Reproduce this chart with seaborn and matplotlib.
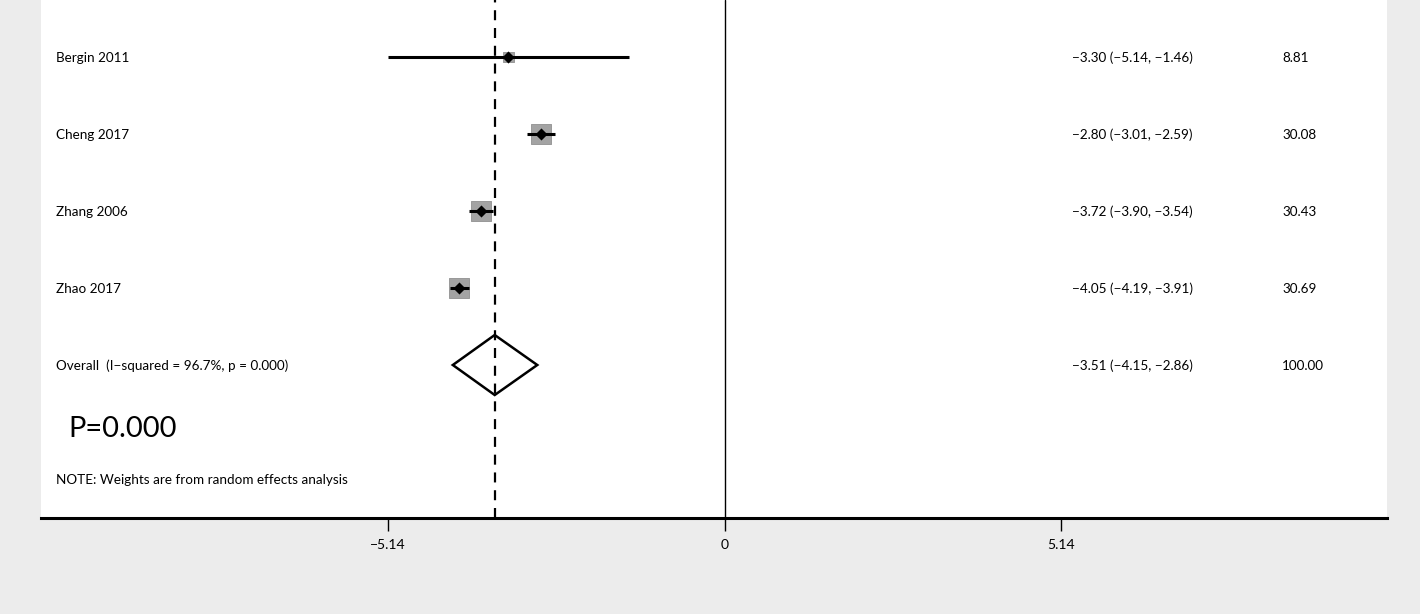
import numpy as np
import pandas as pd
import matplotlib
matplotlib.use("Agg")
import matplotlib.pyplot as plt
import seaborn as sns

studies = ["Bergin 2011", "Cheng 2017", "Zhang 2006", "Zhao 2017"]
es = [-3.30, -2.80, -3.72, -4.05]
ci_lo = [-5.14, -3.01, -3.90, -4.19]
ci_hi = [-1.46, -2.59, -3.54, -3.91]
weights = [8.81, 30.08, 30.43, 30.69]
overall_label = "Overall  (I\u2212squared = 96.7%, p = 0.000)"
overall_es = -3.51
overall_lo = -4.15
overall_hi = -2.86
overall_w = 100.00
xticks = [-5.14, 0, 5.14]
p_text = "P=0.000"
note_text = "NOTE: Weights are from random effects analysis"

sns.set_theme(style="white")
plt.rcParams['font.family'] = ['Lato', 'DejaVu Sans']
plt.rcParams['text.color'] = 'black'
plt.rcParams['xtick.color'] = 'black'

W, H = 1420, 614
fig = plt.figure(figsize=(W / 100, H / 100), dpi=100, facecolor="#ececec")
left, right, bottom_px = 41, 1387, 518
ax = fig.add_axes([left / W, (H - bottom_px) / H, (right - left) / W, bottom_px / H])
ax.set_facecolor("white")

ppu = (1061 - 388) / 10.28
x0 = 724.5
ax.set_xlim((left - x0) / ppu, (right - x0) / ppu)
ax.set_ylim((bottom_px - 57) / 77, -57 / 77)

rows = np.arange(len(studies))
df = pd.DataFrame({"study": studies, "es": es, "lo": ci_lo, "hi": ci_hi,
                   "w": weights, "row": rows})

def fmt(v):
    s = f"{abs(v):.2f}"
    return ("\u2212" + s) if v < 0 else s

# reference lines
ax.axvline(0, color="black", lw=1.0, zorder=1)
ax.axvline(overall_es, color="black", lw=1.6, ls=(0, (4.5, 3.5)), zorder=1)

# weight boxes
k = 207 / 30.08
sns.scatterplot(data=df, x="es", y="row", size="w",
                sizes={w: k * w for w in weights}, marker="s",
                color="#a3a3a3", edgecolor="#909090", linewidth=0.6,
                legend=False, ax=ax, zorder=2)
# CI lines
ax.hlines(df["row"], df["lo"], df["hi"], color="black", lw=2.2, zorder=3)
# point estimates
sns.scatterplot(data=df, x="es", y="row", marker="D", color="black",
                s=38, linewidth=0, legend=False, ax=ax, zorder=4)

# overall diamond
orow = len(studies)
dh = 30 / 77
ax.fill([overall_lo, overall_es, overall_hi, overall_es, overall_lo],
        [orow, orow - dh, orow, orow + dh, orow],
        facecolor="none", edgecolor="black", lw=1.8, zorder=3)

# texts
xl = (56 - x0) / ppu
xe = (1072 - x0) / ppu
xw = (1282 - x0) / ppu
fs = 9.7
dy = 0.012
for i, r in df.iterrows():
    ax.text(xl, r["row"] + dy, r["study"], va="center", ha="left", fontsize=fs)
    ax.text(xe, r["row"] + dy, f"{fmt(r['es'])} ({fmt(r['lo'])}, {fmt(r['hi'])})",
            va="center", ha="left", fontsize=fs)
    ax.text(xw, r["row"] + dy, f"{r['w']:.2f}", va="center", ha="left", fontsize=fs)
ax.text(xl, orow + dy, overall_label, va="center", ha="left", fontsize=fs)
ax.text(xe, orow + dy, f"{fmt(overall_es)} ({fmt(overall_lo)}, {fmt(overall_hi)})",
        va="center", ha="left", fontsize=fs)
ax.text(xw, orow + dy, f"{overall_w:.2f}", va="center", ha="left", fontsize=fs)
ax.text((68 - x0) / ppu, (429 - 57) / 77, p_text, va="center", ha="left", fontsize=21)
ax.text(xl, (480 - 57) / 77, note_text, va="center", ha="left", fontsize=fs)

# axes styling
for s in ["top", "left", "right"]:
    ax.spines[s].set_visible(False)
ax.spines["bottom"].set_linewidth(2.2)
ax.spines["bottom"].set_color("black")
ax.set_yticks([])
ax.set_xticks(xticks)
ax.set_xticklabels([fmt(v) if v != 0 else "0" for v in xticks], fontsize=10)
ax.tick_params(axis="x", direction="out", length=9, width=1, color="black", pad=6, bottom=True)
ax.set_xlabel("")
ax.set_ylabel("")

fig.savefig("out.png", dpi=100, facecolor=fig.get_facecolor())
